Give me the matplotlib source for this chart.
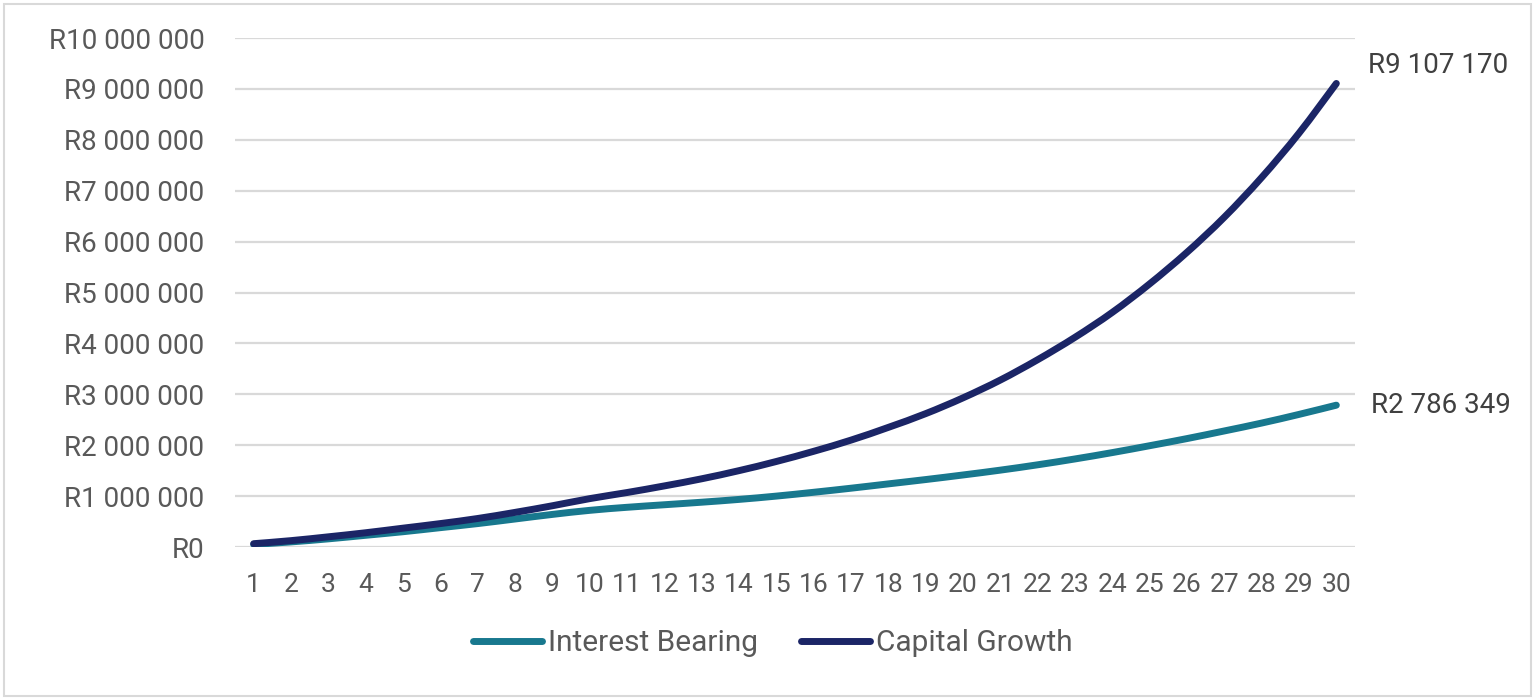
import matplotlib
matplotlib.use("Agg")
import matplotlib.pyplot as plt
from matplotlib.ticker import FuncFormatter, MultipleLocator
from matplotlib.patches import Rectangle, PathPatch
from matplotlib.path import Path
from matplotlib.lines import Line2D

plt.rcParams['font.family'] = ['Roboto', 'DejaVu Sans']

years = list(range(1, 31))
interest_bearing = [50000, 100000, 160000, 230000, 300000, 380000, 460000, 550000, 640000, 720000,
                    780000, 830000, 880000, 935000, 1000000, 1075000, 1155000, 1240000, 1325000, 1415000,
                    1510000, 1615000, 1730000, 1855000, 1990000, 2130000, 2280000, 2435000, 2605000, 2786349]
capital_growth = [65000, 125000, 200000, 280000, 370000, 460000, 560000, 680000, 810000, 950000,
                  1070000, 1200000, 1340000, 1500000, 1680000, 1880000, 2100000, 2350000, 2620000, 2930000,
                  3280000, 3680000, 4120000, 4610000, 5170000, 5790000, 6480000, 7260000, 8130000, 9107170]
series_names = ["Interest Bearing", "Capital Growth"]
end_labels = ["R2 786 349", "R9 107 170"]

teal = "#18788E"
navy = "#1B2566"
text_grey = "#595959"
label_grey = "#404040"
grid_grey = "#D9D9D9"


def smooth_path(xs, ys):
    """Excel-style smoothed line: cubic Bezier segments through the data points."""
    n = len(xs)
    verts = [(xs[0], ys[0])]
    codes = [Path.MOVETO]
    for i in range(n - 1):
        x0, y0 = xs[max(i - 1, 0)], ys[max(i - 1, 0)]
        x1, y1 = xs[i], ys[i]
        x2, y2 = xs[i + 1], ys[i + 1]
        x3, y3 = xs[min(i + 2, n - 1)], ys[min(i + 2, n - 1)]
        c1 = (x1 + (x2 - x0) / 6, y1 + (y2 - y0) / 6)
        c2 = (x2 - (x3 - x1) / 6, y2 - (y3 - y1) / 6)
        verts += [c1, c2, (x2, y2)]
        codes += [Path.CURVE4] * 3
    return Path(verts, codes)


W, H = 1535, 700
fig = plt.figure(figsize=(W / 100, H / 100), dpi=100)
ax = fig.add_axes([235 / W, 1 - 547 / H, 1120 / W, 509 / H])

for vals, col, z in [(interest_bearing, teal, 3), (capital_growth, navy, 4)]:
    patch = PathPatch(smooth_path(years, vals), facecolor='none', edgecolor=col, lw=5,
                      capstyle='round', joinstyle='round', zorder=z)
    ax.add_patch(patch)

ax.set_xlim(0.5, 30.5)
ax.set_ylim(0, 10_000_000)
ax.yaxis.set_major_locator(MultipleLocator(1_000_000))
ax.set_xticks(years)
ax.set_xticklabels([str(y) for y in years])
ax.yaxis.set_major_formatter(FuncFormatter(lambda v, p: "R" + f"{int(round(v)):,}".replace(",", " ")))

ax.grid(axis='y', color=grid_grey, lw=1.6)
ax.set_axisbelow(True)
for s in ax.spines.values():
    s.set_visible(False)
ax.tick_params(axis='both', length=0, labelcolor=text_grey)
ax.tick_params(axis='y', pad=22, labelsize=20)
ax.tick_params(axis='x', pad=19, labelsize=19)

# end-of-series data labels
ax.annotate(end_labels[0], xy=(years[-1], interest_bearing[-1]), xytext=(25, 0),
            textcoords='offset points', ha='left', va='center', fontsize=20,
            color=label_grey, annotation_clip=False)
ax.annotate(end_labels[1], xy=(years[-1], capital_growth[-1]), xytext=(23, 13),
            textcoords='offset points', ha='left', va='center', fontsize=20,
            color=label_grey, annotation_clip=False)

handles = [Line2D([], [], color=teal, lw=5, solid_capstyle='round'),
           Line2D([], [], color=navy, lw=5, solid_capstyle='round')]
fig.legend(handles, series_names, loc='center', bbox_to_anchor=(773 / W, 1 - 643 / H), ncol=2,
           frameon=False, fontsize=21.5, handlelength=2.3, handletextpad=0.2, columnspacing=1.45,
           labelcolor=text_grey)

fig.patches.append(Rectangle((4 / W, 4 / H), (1531 - 4) / W, (696 - 4) / H,
                             transform=fig.transFigure, fill=False,
                             edgecolor=grid_grey, lw=1.5))

fig.savefig("out.png", dpi=100, facecolor="white")
